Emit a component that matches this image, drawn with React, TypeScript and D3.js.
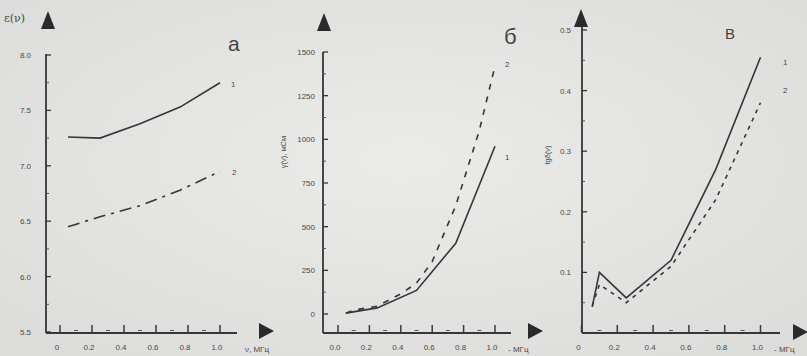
import React from 'react';
import * as d3 from 'd3';

// panel а: ε(ν)
const freqA = [0.05, 0.25, 0.5, 0.75, 1.0];
const epsA1 = [7.26, 7.25, 7.38, 7.53, 7.75];
const epsA2 = [6.45, 6.54, 6.64, 6.78, 6.95];
const yTicksA = [5.5, 6.0, 6.5, 7.0, 7.5, 8.0];

// panel б: γ(ν)
const freqB1 = [0.05, 0.25, 0.5, 0.75, 1.0];
const gamB1 = [5, 35, 135, 405, 960];
const freqB2 = [0.05, 0.1, 0.25, 0.4, 0.5, 0.6, 0.75, 0.9, 1.0];
const gamB2 = [5, 22, 45, 115, 177, 300, 620, 1050, 1420];
const yTicksB = [0, 250, 500, 750, 1000, 1250, 1500];

// panel в: tgδ(ν)
const freqV = [0.06, 0.1, 0.25, 0.5, 0.75, 1.0];
const tgV1 = [0.043, 0.1, 0.058, 0.12, 0.27, 0.455];
const tgV2 = [0.045, 0.08, 0.05, 0.11, 0.22, 0.38];
const yTicksV = [0.1, 0.2, 0.3, 0.4, 0.5];

const xTicks = [0, 0.2, 0.4, 0.6, 0.8, 1.0];
const xMinor = [0.1, 0.3, 0.5, 0.7, 0.9];

const ink = '#363636';
const txt = '#4a4a4a';
const font = 'Liberation Sans, Arial, sans-serif';

type Series = { x: number[]; y: number[]; dash?: string };

type PanelProps = {
  x: d3.ScaleLinear<number, number>;
  y: d3.ScaleLinear<number, number>;
  axisX: [number, number];
  axisYTop: number;
  baseY: number;
  yTicks: number[];
  yMinor: number[];
  yFmt: (v: number) => string;
  xFmt: (v: number, i: number) => string;
  labelRight: number;
  series: Series[];
};

const Arrow = ({ cx, cy, dir }: { cx: number; cy: number; dir: 'up' | 'right' }) => {
  const p = dir === 'up'
    ? `${cx - 7},${cy + 9} ${cx + 7},${cy + 9} ${cx},${cy - 9}`
    : `${cx - 7},${cy - 8} ${cx - 7},${cy + 8} ${cx + 8},${cy}`;
  return <polygon points={p} fill="#2a2a2a" />;
};

const Panel = (p: PanelProps) => {
  const axisLeft = p.axisX[0];
  const line = d3.line<[number, number]>().x(d => p.x(d[0])).y(d => p.y(d[1]));
  return (
    <g>
      {/* axes */}
      <line x1={axisLeft} x2={axisLeft} y1={p.axisYTop} y2={p.baseY} stroke={ink} strokeWidth={1.8} />
      <line x1={axisLeft} x2={p.axisX[1]} y1={p.baseY} y2={p.baseY} stroke={ink} strokeWidth={1.8} />
      {p.yTicks.map(t => (
        <g key={'y' + t}>
          <line x1={axisLeft} x2={axisLeft + 5} y1={p.y(t)} y2={p.y(t)} stroke={ink} strokeWidth={1.3} />
          <text x={p.labelRight} y={p.y(t) + 3} fontSize={8} textAnchor="end" fill={txt} fontFamily={font}>
            {p.yFmt(t)}
          </text>
        </g>
      ))}
      {p.yMinor.map(t => (
        <line key={'ym' + t} x1={axisLeft} x2={axisLeft + 3} y1={p.y(t)} y2={p.y(t)} stroke="#555" strokeWidth={1} />
      ))}
      {xTicks.map((t, i) => (
        <g key={'x' + t}>
          <rect x={p.x(t) - 0.75} y={p.baseY - 8} width={1.5} height={7} fill="#3a3a3a" />
          <text x={p.x(t) - 3} y={p.baseY + 17} fontSize={8} textAnchor="middle" fill={txt} fontFamily={font}>
            {p.xFmt(t, i)}
          </text>
        </g>
      ))}
      {xMinor.map(t => (
        <line key={'xm' + t} x1={p.x(t) - 2} x2={p.x(t) + 2} y1={p.baseY - 2.5} y2={p.baseY - 2.5} stroke="#555" strokeWidth={1} />
      ))}
      {p.series.map((s, i) => (
        <path
          key={i}
          d={line(s.x.map((v, j) => [v, s.y[j]] as [number, number])) || ''}
          fill="none"
          stroke={ink}
          strokeWidth={1.6}
          strokeDasharray={s.dash}
        />
      ))}
    </g>
  );
};

const App = () => {
  const W = 807;
  const H = 356;
  const baseY = 333;

  const xA = d3.scaleLinear().domain([0, 1]).range([60, 220]);
  const yA = d3.scaleLinear().domain([5.5, 8.0]).range([332, 55]);
  const xB = d3.scaleLinear().domain([0, 1]).range([338, 495]);
  const yB = d3.scaleLinear().domain([0, 1500]).range([314, 52]);
  const xV = d3.scaleLinear().domain([0, 1]).range([581.5, 760.5]);
  const yV = d3.scaleLinear().domain([0, 0.5]).range([333, 30]);

  return (
    <svg width={W} height={H} style={{ position: 'absolute', left: 0, top: 0 }}>
      <defs>
        <radialGradient id="paper" cx="50%" cy="45%" r="70%">
          <stop offset="0%" stopColor="#ebebe9" />
          <stop offset="100%" stopColor="#dcdcda" />
        </radialGradient>
      </defs>
      <rect width={W} height={H} fill="url(#paper)" />

      {/* а */}
      <Panel
        x={xA}
        y={yA}
        axisX={[46, 237]}
        axisYTop={54}
        baseY={baseY}
        yTicks={yTicksA}
        yMinor={[5.75, 6.25, 6.75, 7.25, 7.75]}
        yFmt={d3.format('.1f')}
        xFmt={(v, i) => (i === 0 ? '0' : d3.format('.1f')(v))}
        labelRight={31}
        series={[
          { x: freqA, y: epsA1 },
          { x: freqA, y: epsA2, dash: '12,6,3,6' },
        ]}
      />
      <Arrow cx={48} cy={20} dir="up" />
      <Arrow cx={266} cy={331} dir="right" />
      <text x={4} y={22} fontSize={11} fill="#444" fontFamily="DejaVu Serif, serif">ε(ν)</text>
      <text x={228} y={51} fontSize={21} fill="#444" fontFamily={font}>а</text>
      <text x={231} y={87} fontSize={8} fill={txt} fontFamily={font}>1</text>
      <text x={232} y={175} fontSize={8} fill={txt} fontFamily={font}>2</text>
      <text x={245} y={352} fontSize={8} fill={txt} fontFamily={font}>ν, МГц</text>

      {/* б */}
      <Panel
        x={xB}
        y={yB}
        axisX={[323, 511]}
        axisYTop={52}
        baseY={baseY}
        yTicks={yTicksB}
        yMinor={[125, 375, 625, 875, 1125, 1375]}
        yFmt={d3.format('d')}
        xFmt={v => d3.format('.1f')(v)}
        labelRight={315}
        series={[
          { x: freqB1, y: gamB1 },
          { x: freqB2, y: gamB2, dash: '6,7' },
        ]}
      />
      <Arrow cx={324} cy={22} dir="up" />
      <Arrow cx={535} cy={331} dir="right" />
      <text
        transform="translate(286,152) rotate(-90)"
        fontSize={7.5}
        textAnchor="middle"
        fill={txt}
        fontFamily={font}
      >
        γ(ν), мСм
      </text>
      <text x={504} y={44} fontSize={22} fill="#444" fontFamily={font}>б</text>
      <text x={505} y={160} fontSize={8} fill={txt} fontFamily={font}>1</text>
      <text x={505} y={67} fontSize={8} fill={txt} fontFamily={font}>2</text>
      <text x={508} y={352} fontSize={8} fill={txt} fontFamily={font}>- МГц</text>

      {/* в */}
      <Panel
        x={xV}
        y={yV}
        axisX={[582, 780]}
        axisYTop={27}
        baseY={baseY}
        yTicks={yTicksV}
        yMinor={[0.05, 0.15, 0.25, 0.35, 0.45]}
        yFmt={d3.format('.1f')}
        xFmt={(v, i) => (i === 0 ? '0' : d3.format('.1f')(v))}
        labelRight={571}
        series={[
          { x: freqV, y: tgV1 },
          { x: freqV, y: tgV2, dash: '4,5' },
        ]}
      />
      <Arrow cx={581} cy={18} dir="up" />
      <Arrow cx={800} cy={332} dir="right" />
      <text
        transform="translate(550,155) rotate(-90)"
        fontSize={7.5}
        textAnchor="middle"
        fill={txt}
        fontFamily={font}
      >
        tgδ(ν)
      </text>
      <text x={725} y={39} fontSize={15} fill="#444" fontFamily={font}>В</text>
      <text x={783} y={65} fontSize={8} fill={txt} fontFamily={font}>1</text>
      <text x={783} y={93} fontSize={8} fill={txt} fontFamily={font}>2</text>
      <text x={774} y={352} fontSize={8} fill={txt} fontFamily={font}>- МГц</text>
    </svg>
  );
};

export default App;
